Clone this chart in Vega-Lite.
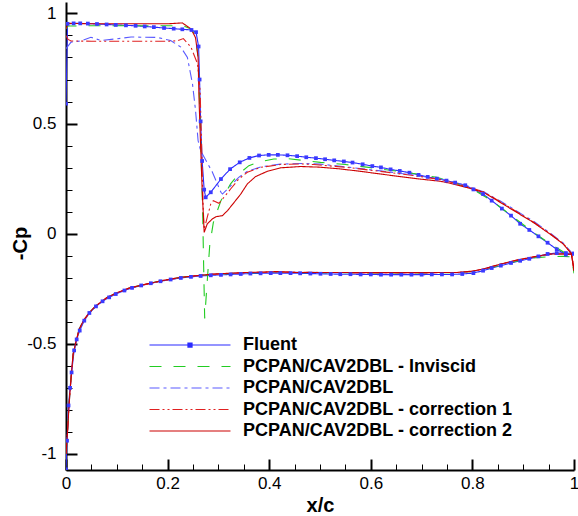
{
"$schema": "https://vega.github.io/schema/vega-lite/v6.json",
"width": 508, "height": 468,
"autosize": "none",
"padding": {"left": 66, "top": 2, "right": 4, "bottom": 46},
"background": "white",
"config": {"view": {"stroke": null}, "font": "Liberation Sans"},
"datasets": {"d": [
{"s":"Fluent","b":"u","x":0,"y":0.59},{"s":"Fluent","b":"u","x":0.003,"y":0.953},{"s":"Fluent","b":"u","x":0.015,"y":0.955},{"s":"Fluent","b":"u","x":0.028,"y":0.955},{"s":"Fluent","b":"u","x":0.043,"y":0.954},{"s":"Fluent","b":"u","x":0.061,"y":0.952},{"s":"Fluent","b":"u","x":0.08,"y":0.95},{"s":"Fluent","b":"u","x":0.098,"y":0.948},{"s":"Fluent","b":"u","x":0.118,"y":0.946},{"s":"Fluent","b":"u","x":0.137,"y":0.944},{"s":"Fluent","b":"u","x":0.155,"y":0.941},{"s":"Fluent","b":"u","x":0.173,"y":0.938},{"s":"Fluent","b":"u","x":0.193,"y":0.934},{"s":"Fluent","b":"u","x":0.212,"y":0.931},{"s":"Fluent","b":"u","x":0.229,"y":0.928},{"s":"Fluent","b":"u","x":0.247,"y":0.925},{"s":"Fluent","b":"u","x":0.256,"y":0.915},{"s":"Fluent","b":"u","x":0.261,"y":0.85},{"s":"Fluent","b":"u","x":0.263,"y":0.7},{"s":"Fluent","b":"u","x":0.265,"y":0.51},{"s":"Fluent","b":"u","x":0.268,"y":0.33},{"s":"Fluent","b":"u","x":0.272,"y":0.2},{"s":"Fluent","b":"u","x":0.275,"y":0.165},{"s":"Fluent","b":"u","x":0.285,"y":0.188},{"s":"Fluent","b":"u","x":0.305,"y":0.248},{"s":"Fluent","b":"u","x":0.323,"y":0.293},{"s":"Fluent","b":"u","x":0.342,"y":0.324},{"s":"Fluent","b":"u","x":0.361,"y":0.344},{"s":"Fluent","b":"u","x":0.38,"y":0.355},{"s":"Fluent","b":"u","x":0.399,"y":0.358},{"s":"Fluent","b":"u","x":0.417,"y":0.358},{"s":"Fluent","b":"u","x":0.436,"y":0.356},{"s":"Fluent","b":"u","x":0.455,"y":0.352},{"s":"Fluent","b":"u","x":0.473,"y":0.347},{"s":"Fluent","b":"u","x":0.492,"y":0.343},{"s":"Fluent","b":"u","x":0.51,"y":0.338},{"s":"Fluent","b":"u","x":0.528,"y":0.333},{"s":"Fluent","b":"u","x":0.547,"y":0.328},{"s":"Fluent","b":"u","x":0.564,"y":0.323},{"s":"Fluent","b":"u","x":0.584,"y":0.315},{"s":"Fluent","b":"u","x":0.603,"y":0.307},{"s":"Fluent","b":"u","x":0.62,"y":0.301},{"s":"Fluent","b":"u","x":0.639,"y":0.292},{"s":"Fluent","b":"u","x":0.657,"y":0.285},{"s":"Fluent","b":"u","x":0.676,"y":0.277},{"s":"Fluent","b":"u","x":0.694,"y":0.267},{"s":"Fluent","b":"u","x":0.712,"y":0.258},{"s":"Fluent","b":"u","x":0.73,"y":0.25},{"s":"Fluent","b":"u","x":0.749,"y":0.241},{"s":"Fluent","b":"u","x":0.766,"y":0.232},{"s":"Fluent","b":"u","x":0.786,"y":0.22},{"s":"Fluent","b":"u","x":0.802,"y":0.201},{"s":"Fluent","b":"u","x":0.821,"y":0.18},{"s":"Fluent","b":"u","x":0.838,"y":0.15},{"s":"Fluent","b":"u","x":0.858,"y":0.114},{"s":"Fluent","b":"u","x":0.876,"y":0.082},{"s":"Fluent","b":"u","x":0.894,"y":0.045},{"s":"Fluent","b":"u","x":0.912,"y":0.017},{"s":"Fluent","b":"u","x":0.93,"y":-0.012},{"s":"Fluent","b":"u","x":0.948,"y":-0.041},{"s":"Fluent","b":"u","x":0.966,"y":-0.071},{"s":"Fluent","b":"u","x":0.984,"y":-0.095},{"s":"Fluent","b":"u","x":1,"y":-0.09},
{"s":"Fluent","b":"l","x":0,"y":-1.07},{"s":"Fluent","b":"l","x":0.002,"y":-0.94},{"s":"Fluent","b":"l","x":0.005,"y":-0.78},{"s":"Fluent","b":"l","x":0.008,"y":-0.7},{"s":"Fluent","b":"l","x":0.011,"y":-0.63},{"s":"Fluent","b":"l","x":0.016,"y":-0.53},{"s":"Fluent","b":"l","x":0.021,"y":-0.48},{"s":"Fluent","b":"l","x":0.027,"y":-0.44},{"s":"Fluent","b":"l","x":0.036,"y":-0.395},{"s":"Fluent","b":"l","x":0.046,"y":-0.36},{"s":"Fluent","b":"l","x":0.059,"y":-0.33},{"s":"Fluent","b":"l","x":0.072,"y":-0.307},{"s":"Fluent","b":"l","x":0.085,"y":-0.289},{"s":"Fluent","b":"l","x":0.098,"y":-0.274},{"s":"Fluent","b":"l","x":0.115,"y":-0.258},{"s":"Fluent","b":"l","x":0.13,"y":-0.246},{"s":"Fluent","b":"l","x":0.148,"y":-0.235},{"s":"Fluent","b":"l","x":0.167,"y":-0.225},{"s":"Fluent","b":"l","x":0.186,"y":-0.216},{"s":"Fluent","b":"l","x":0.206,"y":-0.208},{"s":"Fluent","b":"l","x":0.226,"y":-0.201},{"s":"Fluent","b":"l","x":0.246,"y":-0.196},{"s":"Fluent","b":"l","x":0.265,"y":-0.192},{"s":"Fluent","b":"l","x":0.285,"y":-0.189},{"s":"Fluent","b":"l","x":0.305,"y":-0.187},{"s":"Fluent","b":"l","x":0.324,"y":-0.185},{"s":"Fluent","b":"l","x":0.344,"y":-0.183},{"s":"Fluent","b":"l","x":0.363,"y":-0.181},{"s":"Fluent","b":"l","x":0.383,"y":-0.18},{"s":"Fluent","b":"l","x":0.403,"y":-0.179},{"s":"Fluent","b":"l","x":0.422,"y":-0.179},{"s":"Fluent","b":"l","x":0.442,"y":-0.179},{"s":"Fluent","b":"l","x":0.461,"y":-0.18},{"s":"Fluent","b":"l","x":0.481,"y":-0.181},{"s":"Fluent","b":"l","x":0.501,"y":-0.182},{"s":"Fluent","b":"l","x":0.521,"y":-0.183},{"s":"Fluent","b":"l","x":0.54,"y":-0.184},{"s":"Fluent","b":"l","x":0.56,"y":-0.184},{"s":"Fluent","b":"l","x":0.58,"y":-0.185},{"s":"Fluent","b":"l","x":0.6,"y":-0.185},{"s":"Fluent","b":"l","x":0.62,"y":-0.186},{"s":"Fluent","b":"l","x":0.64,"y":-0.186},{"s":"Fluent","b":"l","x":0.66,"y":-0.186},{"s":"Fluent","b":"l","x":0.68,"y":-0.186},{"s":"Fluent","b":"l","x":0.7,"y":-0.186},{"s":"Fluent","b":"l","x":0.72,"y":-0.185},{"s":"Fluent","b":"l","x":0.74,"y":-0.185},{"s":"Fluent","b":"l","x":0.76,"y":-0.185},{"s":"Fluent","b":"l","x":0.78,"y":-0.183},{"s":"Fluent","b":"l","x":0.802,"y":-0.179},{"s":"Fluent","b":"l","x":0.821,"y":-0.168},{"s":"Fluent","b":"l","x":0.838,"y":-0.156},{"s":"Fluent","b":"l","x":0.856,"y":-0.145},{"s":"Fluent","b":"l","x":0.876,"y":-0.133},{"s":"Fluent","b":"l","x":0.894,"y":-0.123},{"s":"Fluent","b":"l","x":0.912,"y":-0.114},{"s":"Fluent","b":"l","x":0.93,"y":-0.103},{"s":"Fluent","b":"l","x":0.948,"y":-0.092},{"s":"Fluent","b":"l","x":0.966,"y":-0.088},{"s":"Fluent","b":"l","x":0.984,"y":-0.088},{"s":"Fluent","b":"l","x":1,"y":-0.09},
{"s":"PCPAN/CAV2DBL - Inviscid","b":"u","x":0,"y":0.93},{"s":"PCPAN/CAV2DBL - Inviscid","b":"u","x":0.004,"y":0.943},{"s":"PCPAN/CAV2DBL - Inviscid","b":"u","x":0.05,"y":0.944},{"s":"PCPAN/CAV2DBL - Inviscid","b":"u","x":0.1,"y":0.944},{"s":"PCPAN/CAV2DBL - Inviscid","b":"u","x":0.15,"y":0.944},{"s":"PCPAN/CAV2DBL - Inviscid","b":"u","x":0.2,"y":0.944},{"s":"PCPAN/CAV2DBL - Inviscid","b":"u","x":0.229,"y":0.945},{"s":"PCPAN/CAV2DBL - Inviscid","b":"u","x":0.246,"y":0.93},{"s":"PCPAN/CAV2DBL - Inviscid","b":"u","x":0.255,"y":0.9},{"s":"PCPAN/CAV2DBL - Inviscid","b":"u","x":0.26,"y":0.8},{"s":"PCPAN/CAV2DBL - Inviscid","b":"u","x":0.263,"y":0.6},{"s":"PCPAN/CAV2DBL - Inviscid","b":"u","x":0.266,"y":0.35},{"s":"PCPAN/CAV2DBL - Inviscid","b":"u","x":0.269,"y":0.1},{"s":"PCPAN/CAV2DBL - Inviscid","b":"u","x":0.271,"y":-0.15},{"s":"PCPAN/CAV2DBL - Inviscid","b":"u","x":0.273,"y":-0.385},{"s":"PCPAN/CAV2DBL - Inviscid","b":"u","x":0.277,"y":-0.25},{"s":"PCPAN/CAV2DBL - Inviscid","b":"u","x":0.283,"y":-0.05},{"s":"PCPAN/CAV2DBL - Inviscid","b":"u","x":0.29,"y":0.05},{"s":"PCPAN/CAV2DBL - Inviscid","b":"u","x":0.298,"y":0.105},{"s":"PCPAN/CAV2DBL - Inviscid","b":"u","x":0.305,"y":0.15},{"s":"PCPAN/CAV2DBL - Inviscid","b":"u","x":0.324,"y":0.226},{"s":"PCPAN/CAV2DBL - Inviscid","b":"u","x":0.34,"y":0.271},{"s":"PCPAN/CAV2DBL - Inviscid","b":"u","x":0.36,"y":0.309},{"s":"PCPAN/CAV2DBL - Inviscid","b":"u","x":0.383,"y":0.327},{"s":"PCPAN/CAV2DBL - Inviscid","b":"u","x":0.409,"y":0.339},{"s":"PCPAN/CAV2DBL - Inviscid","b":"u","x":0.436,"y":0.341},{"s":"PCPAN/CAV2DBL - Inviscid","b":"u","x":0.501,"y":0.324},{"s":"PCPAN/CAV2DBL - Inviscid","b":"u","x":0.55,"y":0.314},{"s":"PCPAN/CAV2DBL - Inviscid","b":"u","x":0.596,"y":0.301},{"s":"PCPAN/CAV2DBL - Inviscid","b":"u","x":0.645,"y":0.286},{"s":"PCPAN/CAV2DBL - Inviscid","b":"u","x":0.691,"y":0.271},{"s":"PCPAN/CAV2DBL - Inviscid","b":"u","x":0.73,"y":0.256},{"s":"PCPAN/CAV2DBL - Inviscid","b":"u","x":0.766,"y":0.23},{"s":"PCPAN/CAV2DBL - Inviscid","b":"u","x":0.802,"y":0.2},{"s":"PCPAN/CAV2DBL - Inviscid","b":"u","x":0.838,"y":0.15},{"s":"PCPAN/CAV2DBL - Inviscid","b":"u","x":0.876,"y":0.083},{"s":"PCPAN/CAV2DBL - Inviscid","b":"u","x":0.912,"y":0.02},{"s":"PCPAN/CAV2DBL - Inviscid","b":"u","x":0.948,"y":-0.038},{"s":"PCPAN/CAV2DBL - Inviscid","b":"u","x":0.984,"y":-0.09},{"s":"PCPAN/CAV2DBL - Inviscid","b":"u","x":1,"y":-0.12},
{"s":"PCPAN/CAV2DBL - Inviscid","b":"l","x":0,"y":-1.0},{"s":"PCPAN/CAV2DBL - Inviscid","b":"l","x":0.003,"y":-0.9},{"s":"PCPAN/CAV2DBL - Inviscid","b":"l","x":0.0065,"y":-0.76},{"s":"PCPAN/CAV2DBL - Inviscid","b":"l","x":0.01,"y":-0.653},{"s":"PCPAN/CAV2DBL - Inviscid","b":"l","x":0.014,"y":-0.547},{"s":"PCPAN/CAV2DBL - Inviscid","b":"l","x":0.02,"y":-0.486},{"s":"PCPAN/CAV2DBL - Inviscid","b":"l","x":0.026,"y":-0.433},{"s":"PCPAN/CAV2DBL - Inviscid","b":"l","x":0.036,"y":-0.388},{"s":"PCPAN/CAV2DBL - Inviscid","b":"l","x":0.046,"y":-0.358},{"s":"PCPAN/CAV2DBL - Inviscid","b":"l","x":0.059,"y":-0.327},{"s":"PCPAN/CAV2DBL - Inviscid","b":"l","x":0.079,"y":-0.292},{"s":"PCPAN/CAV2DBL - Inviscid","b":"l","x":0.098,"y":-0.27},{"s":"PCPAN/CAV2DBL - Inviscid","b":"l","x":0.124,"y":-0.247},{"s":"PCPAN/CAV2DBL - Inviscid","b":"l","x":0.157,"y":-0.229},{"s":"PCPAN/CAV2DBL - Inviscid","b":"l","x":0.196,"y":-0.21},{"s":"PCPAN/CAV2DBL - Inviscid","b":"l","x":0.226,"y":-0.198},{"s":"PCPAN/CAV2DBL - Inviscid","b":"l","x":0.26,"y":-0.19},{"s":"PCPAN/CAV2DBL - Inviscid","b":"l","x":0.291,"y":-0.184},{"s":"PCPAN/CAV2DBL - Inviscid","b":"l","x":0.357,"y":-0.178},{"s":"PCPAN/CAV2DBL - Inviscid","b":"l","x":0.416,"y":-0.176},{"s":"PCPAN/CAV2DBL - Inviscid","b":"l","x":0.5,"y":-0.177},{"s":"PCPAN/CAV2DBL - Inviscid","b":"l","x":0.6,"y":-0.178},{"s":"PCPAN/CAV2DBL - Inviscid","b":"l","x":0.7,"y":-0.178},{"s":"PCPAN/CAV2DBL - Inviscid","b":"l","x":0.77,"y":-0.177},{"s":"PCPAN/CAV2DBL - Inviscid","b":"l","x":0.8,"y":-0.172},{"s":"PCPAN/CAV2DBL - Inviscid","b":"l","x":0.822,"y":-0.163},{"s":"PCPAN/CAV2DBL - Inviscid","b":"l","x":0.855,"y":-0.143},{"s":"PCPAN/CAV2DBL - Inviscid","b":"l","x":0.887,"y":-0.125},{"s":"PCPAN/CAV2DBL - Inviscid","b":"l","x":0.92,"y":-0.11},{"s":"PCPAN/CAV2DBL - Inviscid","b":"l","x":0.953,"y":-0.104},{"s":"PCPAN/CAV2DBL - Inviscid","b":"l","x":0.979,"y":-0.103},{"s":"PCPAN/CAV2DBL - Inviscid","b":"l","x":0.995,"y":-0.105},{"s":"PCPAN/CAV2DBL - Inviscid","b":"l","x":1,"y":-0.18},
{"s":"PCPAN/CAV2DBL","b":"u","x":0,"y":0.84},{"s":"PCPAN/CAV2DBL","b":"u","x":0.01,"y":0.87},{"s":"PCPAN/CAV2DBL","b":"u","x":0.03,"y":0.875},{"s":"PCPAN/CAV2DBL","b":"u","x":0.049,"y":0.892},{"s":"PCPAN/CAV2DBL","b":"u","x":0.069,"y":0.877},{"s":"PCPAN/CAV2DBL","b":"u","x":0.1,"y":0.885},{"s":"PCPAN/CAV2DBL","b":"u","x":0.128,"y":0.893},{"s":"PCPAN/CAV2DBL","b":"u","x":0.18,"y":0.891},{"s":"PCPAN/CAV2DBL","b":"u","x":0.206,"y":0.877},{"s":"PCPAN/CAV2DBL","b":"u","x":0.226,"y":0.847},{"s":"PCPAN/CAV2DBL","b":"u","x":0.239,"y":0.8},{"s":"PCPAN/CAV2DBL","b":"u","x":0.249,"y":0.68},{"s":"PCPAN/CAV2DBL","b":"u","x":0.255,"y":0.56},{"s":"PCPAN/CAV2DBL","b":"u","x":0.26,"y":0.423},{"s":"PCPAN/CAV2DBL","b":"u","x":0.265,"y":0.377},{"s":"PCPAN/CAV2DBL","b":"u","x":0.288,"y":0.28},{"s":"PCPAN/CAV2DBL","b":"u","x":0.305,"y":0.188},{"s":"PCPAN/CAV2DBL","b":"u","x":0.308,"y":0.18},{"s":"PCPAN/CAV2DBL","b":"u","x":0.321,"y":0.21},{"s":"PCPAN/CAV2DBL","b":"u","x":0.34,"y":0.256},{"s":"PCPAN/CAV2DBL","b":"u","x":0.357,"y":0.283},{"s":"PCPAN/CAV2DBL","b":"u","x":0.383,"y":0.303},{"s":"PCPAN/CAV2DBL","b":"u","x":0.422,"y":0.316},{"s":"PCPAN/CAV2DBL","b":"u","x":0.462,"y":0.319},{"s":"PCPAN/CAV2DBL","b":"u","x":0.5,"y":0.316},{"s":"PCPAN/CAV2DBL","b":"u","x":0.553,"y":0.303},{"s":"PCPAN/CAV2DBL","b":"u","x":0.619,"y":0.285},{"s":"PCPAN/CAV2DBL","b":"u","x":0.684,"y":0.266},{"s":"PCPAN/CAV2DBL","b":"u","x":0.737,"y":0.248},{"s":"PCPAN/CAV2DBL","b":"u","x":0.789,"y":0.218},{"s":"PCPAN/CAV2DBL","b":"u","x":0.822,"y":0.19},{"s":"PCPAN/CAV2DBL","b":"u","x":0.855,"y":0.148},{"s":"PCPAN/CAV2DBL","b":"u","x":0.887,"y":0.103},{"s":"PCPAN/CAV2DBL","b":"u","x":0.92,"y":0.057},{"s":"PCPAN/CAV2DBL","b":"u","x":0.953,"y":0.003},{"s":"PCPAN/CAV2DBL","b":"u","x":0.979,"y":-0.043},{"s":"PCPAN/CAV2DBL","b":"u","x":0.995,"y":-0.085},{"s":"PCPAN/CAV2DBL","b":"u","x":1,"y":-0.1},
{"s":"PCPAN/CAV2DBL","b":"l","x":0,"y":-1.0},{"s":"PCPAN/CAV2DBL","b":"l","x":0.003,"y":-0.9},{"s":"PCPAN/CAV2DBL","b":"l","x":0.0065,"y":-0.762},{"s":"PCPAN/CAV2DBL","b":"l","x":0.01,"y":-0.655},{"s":"PCPAN/CAV2DBL","b":"l","x":0.014,"y":-0.549},{"s":"PCPAN/CAV2DBL","b":"l","x":0.02,"y":-0.487},{"s":"PCPAN/CAV2DBL","b":"l","x":0.026,"y":-0.434},{"s":"PCPAN/CAV2DBL","b":"l","x":0.036,"y":-0.389},{"s":"PCPAN/CAV2DBL","b":"l","x":0.046,"y":-0.359},{"s":"PCPAN/CAV2DBL","b":"l","x":0.059,"y":-0.328},{"s":"PCPAN/CAV2DBL","b":"l","x":0.079,"y":-0.293},{"s":"PCPAN/CAV2DBL","b":"l","x":0.098,"y":-0.271},{"s":"PCPAN/CAV2DBL","b":"l","x":0.124,"y":-0.248},{"s":"PCPAN/CAV2DBL","b":"l","x":0.157,"y":-0.23},{"s":"PCPAN/CAV2DBL","b":"l","x":0.196,"y":-0.211},{"s":"PCPAN/CAV2DBL","b":"l","x":0.226,"y":-0.199},{"s":"PCPAN/CAV2DBL","b":"l","x":0.26,"y":-0.19},{"s":"PCPAN/CAV2DBL","b":"l","x":0.291,"y":-0.184},{"s":"PCPAN/CAV2DBL","b":"l","x":0.357,"y":-0.177},{"s":"PCPAN/CAV2DBL","b":"l","x":0.416,"y":-0.175},{"s":"PCPAN/CAV2DBL","b":"l","x":0.5,"y":-0.176},{"s":"PCPAN/CAV2DBL","b":"l","x":0.6,"y":-0.177},{"s":"PCPAN/CAV2DBL","b":"l","x":0.7,"y":-0.177},{"s":"PCPAN/CAV2DBL","b":"l","x":0.77,"y":-0.176},{"s":"PCPAN/CAV2DBL","b":"l","x":0.8,"y":-0.171},{"s":"PCPAN/CAV2DBL","b":"l","x":0.822,"y":-0.161},{"s":"PCPAN/CAV2DBL","b":"l","x":0.855,"y":-0.14},{"s":"PCPAN/CAV2DBL","b":"l","x":0.887,"y":-0.122},{"s":"PCPAN/CAV2DBL","b":"l","x":0.92,"y":-0.107},{"s":"PCPAN/CAV2DBL","b":"l","x":0.953,"y":-0.094},{"s":"PCPAN/CAV2DBL","b":"l","x":0.979,"y":-0.091},{"s":"PCPAN/CAV2DBL","b":"l","x":0.995,"y":-0.092},{"s":"PCPAN/CAV2DBL","b":"l","x":1,"y":-0.1},
{"s":"PCPAN/CAV2DBL - correction 1","b":"u","x":0,"y":0.9},{"s":"PCPAN/CAV2DBL - correction 1","b":"u","x":0.004,"y":0.882},{"s":"PCPAN/CAV2DBL - correction 1","b":"u","x":0.01,"y":0.875},{"s":"PCPAN/CAV2DBL - correction 1","b":"u","x":0.05,"y":0.874},{"s":"PCPAN/CAV2DBL - correction 1","b":"u","x":0.1,"y":0.874},{"s":"PCPAN/CAV2DBL - correction 1","b":"u","x":0.15,"y":0.874},{"s":"PCPAN/CAV2DBL - correction 1","b":"u","x":0.2,"y":0.874},{"s":"PCPAN/CAV2DBL - correction 1","b":"u","x":0.22,"y":0.876},{"s":"PCPAN/CAV2DBL - correction 1","b":"u","x":0.231,"y":0.886},{"s":"PCPAN/CAV2DBL - correction 1","b":"u","x":0.246,"y":0.847},{"s":"PCPAN/CAV2DBL - correction 1","b":"u","x":0.259,"y":0.771},{"s":"PCPAN/CAV2DBL - correction 1","b":"u","x":0.264,"y":0.65},{"s":"PCPAN/CAV2DBL - correction 1","b":"u","x":0.267,"y":0.4},{"s":"PCPAN/CAV2DBL - correction 1","b":"u","x":0.27,"y":0.12},{"s":"PCPAN/CAV2DBL - correction 1","b":"u","x":0.272,"y":0.02},{"s":"PCPAN/CAV2DBL - correction 1","b":"u","x":0.278,"y":0.074},{"s":"PCPAN/CAV2DBL - correction 1","b":"u","x":0.285,"y":0.135},{"s":"PCPAN/CAV2DBL - correction 1","b":"u","x":0.29,"y":0.15},{"s":"PCPAN/CAV2DBL - correction 1","b":"u","x":0.301,"y":0.138},{"s":"PCPAN/CAV2DBL - correction 1","b":"u","x":0.318,"y":0.185},{"s":"PCPAN/CAV2DBL - correction 1","b":"u","x":0.324,"y":0.203},{"s":"PCPAN/CAV2DBL - correction 1","b":"u","x":0.34,"y":0.248},{"s":"PCPAN/CAV2DBL - correction 1","b":"u","x":0.357,"y":0.279},{"s":"PCPAN/CAV2DBL - correction 1","b":"u","x":0.383,"y":0.301},{"s":"PCPAN/CAV2DBL - correction 1","b":"u","x":0.422,"y":0.314},{"s":"PCPAN/CAV2DBL - correction 1","b":"u","x":0.462,"y":0.317},{"s":"PCPAN/CAV2DBL - correction 1","b":"u","x":0.488,"y":0.314},{"s":"PCPAN/CAV2DBL - correction 1","b":"u","x":0.553,"y":0.301},{"s":"PCPAN/CAV2DBL - correction 1","b":"u","x":0.619,"y":0.283},{"s":"PCPAN/CAV2DBL - correction 1","b":"u","x":0.684,"y":0.264},{"s":"PCPAN/CAV2DBL - correction 1","b":"u","x":0.737,"y":0.246},{"s":"PCPAN/CAV2DBL - correction 1","b":"u","x":0.756,"y":0.235},{"s":"PCPAN/CAV2DBL - correction 1","b":"u","x":0.789,"y":0.214},{"s":"PCPAN/CAV2DBL - correction 1","b":"u","x":0.822,"y":0.19},{"s":"PCPAN/CAV2DBL - correction 1","b":"u","x":0.855,"y":0.145},{"s":"PCPAN/CAV2DBL - correction 1","b":"u","x":0.887,"y":0.1},{"s":"PCPAN/CAV2DBL - correction 1","b":"u","x":0.92,"y":0.053},{"s":"PCPAN/CAV2DBL - correction 1","b":"u","x":0.953,"y":0},{"s":"PCPAN/CAV2DBL - correction 1","b":"u","x":0.979,"y":-0.045},{"s":"PCPAN/CAV2DBL - correction 1","b":"u","x":0.995,"y":-0.09},{"s":"PCPAN/CAV2DBL - correction 1","b":"u","x":1,"y":-0.16},
{"s":"PCPAN/CAV2DBL - correction 1","b":"l","x":0,"y":-1.0},{"s":"PCPAN/CAV2DBL - correction 1","b":"l","x":0.003,"y":-0.9},{"s":"PCPAN/CAV2DBL - correction 1","b":"l","x":0.0065,"y":-0.765},{"s":"PCPAN/CAV2DBL - correction 1","b":"l","x":0.01,"y":-0.655},{"s":"PCPAN/CAV2DBL - correction 1","b":"l","x":0.014,"y":-0.55},{"s":"PCPAN/CAV2DBL - correction 1","b":"l","x":0.02,"y":-0.488},{"s":"PCPAN/CAV2DBL - correction 1","b":"l","x":0.026,"y":-0.435},{"s":"PCPAN/CAV2DBL - correction 1","b":"l","x":0.036,"y":-0.39},{"s":"PCPAN/CAV2DBL - correction 1","b":"l","x":0.046,"y":-0.36},{"s":"PCPAN/CAV2DBL - correction 1","b":"l","x":0.059,"y":-0.329},{"s":"PCPAN/CAV2DBL - correction 1","b":"l","x":0.079,"y":-0.293},{"s":"PCPAN/CAV2DBL - correction 1","b":"l","x":0.098,"y":-0.271},{"s":"PCPAN/CAV2DBL - correction 1","b":"l","x":0.124,"y":-0.248},{"s":"PCPAN/CAV2DBL - correction 1","b":"l","x":0.157,"y":-0.23},{"s":"PCPAN/CAV2DBL - correction 1","b":"l","x":0.196,"y":-0.211},{"s":"PCPAN/CAV2DBL - correction 1","b":"l","x":0.226,"y":-0.199},{"s":"PCPAN/CAV2DBL - correction 1","b":"l","x":0.26,"y":-0.19},{"s":"PCPAN/CAV2DBL - correction 1","b":"l","x":0.291,"y":-0.184},{"s":"PCPAN/CAV2DBL - correction 1","b":"l","x":0.357,"y":-0.177},{"s":"PCPAN/CAV2DBL - correction 1","b":"l","x":0.416,"y":-0.174},{"s":"PCPAN/CAV2DBL - correction 1","b":"l","x":0.5,"y":-0.176},{"s":"PCPAN/CAV2DBL - correction 1","b":"l","x":0.6,"y":-0.177},{"s":"PCPAN/CAV2DBL - correction 1","b":"l","x":0.7,"y":-0.177},{"s":"PCPAN/CAV2DBL - correction 1","b":"l","x":0.77,"y":-0.176},{"s":"PCPAN/CAV2DBL - correction 1","b":"l","x":0.8,"y":-0.171},{"s":"PCPAN/CAV2DBL - correction 1","b":"l","x":0.822,"y":-0.161},{"s":"PCPAN/CAV2DBL - correction 1","b":"l","x":0.855,"y":-0.139},{"s":"PCPAN/CAV2DBL - correction 1","b":"l","x":0.887,"y":-0.121},{"s":"PCPAN/CAV2DBL - correction 1","b":"l","x":0.92,"y":-0.106},{"s":"PCPAN/CAV2DBL - correction 1","b":"l","x":0.953,"y":-0.093},{"s":"PCPAN/CAV2DBL - correction 1","b":"l","x":0.979,"y":-0.092},{"s":"PCPAN/CAV2DBL - correction 1","b":"l","x":0.995,"y":-0.094},{"s":"PCPAN/CAV2DBL - correction 1","b":"l","x":1,"y":-0.16},
{"s":"PCPAN/CAV2DBL - correction 2","b":"u","x":0,"y":0.93},{"s":"PCPAN/CAV2DBL - correction 2","b":"u","x":0.004,"y":0.955},{"s":"PCPAN/CAV2DBL - correction 2","b":"u","x":0.05,"y":0.953},{"s":"PCPAN/CAV2DBL - correction 2","b":"u","x":0.1,"y":0.953},{"s":"PCPAN/CAV2DBL - correction 2","b":"u","x":0.15,"y":0.953},{"s":"PCPAN/CAV2DBL - correction 2","b":"u","x":0.2,"y":0.953},{"s":"PCPAN/CAV2DBL - correction 2","b":"u","x":0.229,"y":0.957},{"s":"PCPAN/CAV2DBL - correction 2","b":"u","x":0.246,"y":0.93},{"s":"PCPAN/CAV2DBL - correction 2","b":"u","x":0.255,"y":0.89},{"s":"PCPAN/CAV2DBL - correction 2","b":"u","x":0.26,"y":0.8},{"s":"PCPAN/CAV2DBL - correction 2","b":"u","x":0.262,"y":0.6},{"s":"PCPAN/CAV2DBL - correction 2","b":"u","x":0.265,"y":0.4},{"s":"PCPAN/CAV2DBL - correction 2","b":"u","x":0.268,"y":0.2},{"s":"PCPAN/CAV2DBL - correction 2","b":"u","x":0.272,"y":0.006},{"s":"PCPAN/CAV2DBL - correction 2","b":"u","x":0.278,"y":0.044},{"s":"PCPAN/CAV2DBL - correction 2","b":"u","x":0.288,"y":0.067},{"s":"PCPAN/CAV2DBL - correction 2","b":"u","x":0.295,"y":0.077},{"s":"PCPAN/CAV2DBL - correction 2","b":"u","x":0.308,"y":0.082},{"s":"PCPAN/CAV2DBL - correction 2","b":"u","x":0.318,"y":0.105},{"s":"PCPAN/CAV2DBL - correction 2","b":"u","x":0.331,"y":0.142},{"s":"PCPAN/CAV2DBL - correction 2","b":"u","x":0.344,"y":0.18},{"s":"PCPAN/CAV2DBL - correction 2","b":"u","x":0.357,"y":0.226},{"s":"PCPAN/CAV2DBL - correction 2","b":"u","x":0.373,"y":0.259},{"s":"PCPAN/CAV2DBL - correction 2","b":"u","x":0.396,"y":0.283},{"s":"PCPAN/CAV2DBL - correction 2","b":"u","x":0.422,"y":0.299},{"s":"PCPAN/CAV2DBL - correction 2","b":"u","x":0.462,"y":0.305},{"s":"PCPAN/CAV2DBL - correction 2","b":"u","x":0.5,"y":0.302},{"s":"PCPAN/CAV2DBL - correction 2","b":"u","x":0.54,"y":0.294},{"s":"PCPAN/CAV2DBL - correction 2","b":"u","x":0.58,"y":0.283},{"s":"PCPAN/CAV2DBL - correction 2","b":"u","x":0.619,"y":0.271},{"s":"PCPAN/CAV2DBL - correction 2","b":"u","x":0.658,"y":0.259},{"s":"PCPAN/CAV2DBL - correction 2","b":"u","x":0.697,"y":0.248},{"s":"PCPAN/CAV2DBL - correction 2","b":"u","x":0.737,"y":0.238},{"s":"PCPAN/CAV2DBL - correction 2","b":"u","x":0.756,"y":0.229},{"s":"PCPAN/CAV2DBL - correction 2","b":"u","x":0.789,"y":0.21},{"s":"PCPAN/CAV2DBL - correction 2","b":"u","x":0.822,"y":0.188},{"s":"PCPAN/CAV2DBL - correction 2","b":"u","x":0.855,"y":0.142},{"s":"PCPAN/CAV2DBL - correction 2","b":"u","x":0.887,"y":0.097},{"s":"PCPAN/CAV2DBL - correction 2","b":"u","x":0.92,"y":0.051},{"s":"PCPAN/CAV2DBL - correction 2","b":"u","x":0.953,"y":-0.002},{"s":"PCPAN/CAV2DBL - correction 2","b":"u","x":0.979,"y":-0.047},{"s":"PCPAN/CAV2DBL - correction 2","b":"u","x":0.995,"y":-0.092},{"s":"PCPAN/CAV2DBL - correction 2","b":"u","x":1,"y":-0.168},
{"s":"PCPAN/CAV2DBL - correction 2","b":"l","x":0,"y":-1.0},{"s":"PCPAN/CAV2DBL - correction 2","b":"l","x":0.003,"y":-0.9},{"s":"PCPAN/CAV2DBL - correction 2","b":"l","x":0.0065,"y":-0.76},{"s":"PCPAN/CAV2DBL - correction 2","b":"l","x":0.01,"y":-0.653},{"s":"PCPAN/CAV2DBL - correction 2","b":"l","x":0.014,"y":-0.547},{"s":"PCPAN/CAV2DBL - correction 2","b":"l","x":0.02,"y":-0.486},{"s":"PCPAN/CAV2DBL - correction 2","b":"l","x":0.026,"y":-0.433},{"s":"PCPAN/CAV2DBL - correction 2","b":"l","x":0.036,"y":-0.388},{"s":"PCPAN/CAV2DBL - correction 2","b":"l","x":0.046,"y":-0.358},{"s":"PCPAN/CAV2DBL - correction 2","b":"l","x":0.059,"y":-0.327},{"s":"PCPAN/CAV2DBL - correction 2","b":"l","x":0.079,"y":-0.292},{"s":"PCPAN/CAV2DBL - correction 2","b":"l","x":0.098,"y":-0.27},{"s":"PCPAN/CAV2DBL - correction 2","b":"l","x":0.124,"y":-0.247},{"s":"PCPAN/CAV2DBL - correction 2","b":"l","x":0.157,"y":-0.229},{"s":"PCPAN/CAV2DBL - correction 2","b":"l","x":0.196,"y":-0.21},{"s":"PCPAN/CAV2DBL - correction 2","b":"l","x":0.226,"y":-0.198},{"s":"PCPAN/CAV2DBL - correction 2","b":"l","x":0.26,"y":-0.19},{"s":"PCPAN/CAV2DBL - correction 2","b":"l","x":0.291,"y":-0.183},{"s":"PCPAN/CAV2DBL - correction 2","b":"l","x":0.357,"y":-0.176},{"s":"PCPAN/CAV2DBL - correction 2","b":"l","x":0.416,"y":-0.172},{"s":"PCPAN/CAV2DBL - correction 2","b":"l","x":0.45,"y":-0.176},{"s":"PCPAN/CAV2DBL - correction 2","b":"l","x":0.5,"y":-0.176},{"s":"PCPAN/CAV2DBL - correction 2","b":"l","x":0.6,"y":-0.177},{"s":"PCPAN/CAV2DBL - correction 2","b":"l","x":0.7,"y":-0.177},{"s":"PCPAN/CAV2DBL - correction 2","b":"l","x":0.77,"y":-0.176},{"s":"PCPAN/CAV2DBL - correction 2","b":"l","x":0.8,"y":-0.17},{"s":"PCPAN/CAV2DBL - correction 2","b":"l","x":0.822,"y":-0.16},{"s":"PCPAN/CAV2DBL - correction 2","b":"l","x":0.855,"y":-0.138},{"s":"PCPAN/CAV2DBL - correction 2","b":"l","x":0.887,"y":-0.12},{"s":"PCPAN/CAV2DBL - correction 2","b":"l","x":0.92,"y":-0.105},{"s":"PCPAN/CAV2DBL - correction 2","b":"l","x":0.953,"y":-0.092},{"s":"PCPAN/CAV2DBL - correction 2","b":"l","x":0.979,"y":-0.092},{"s":"PCPAN/CAV2DBL - correction 2","b":"l","x":0.995,"y":-0.094},{"s":"PCPAN/CAV2DBL - correction 2","b":"l","x":1,"y":-0.168}
]},
"data": {"name": "d"},
"layer": [
 {
  "mark": {"type": "line", "strokeWidth": 1.1, "clip": true},
  "encoding": {
   "x": {"field": "x", "type": "quantitative", "scale": {"domain": [0, 1], "nice": false, "zero": false},
         "axis": {"values": [0, 0.2, 0.4, 0.6, 0.8, 1], "labelExpr": "'' + datum.value", "tickSize": -11, "tickWidth": 2, "tickColor": "black", "domainColor": "black", "domainWidth": 2, "labelFont": "Liberation Sans", "labelFontSize": 17, "labelColor": "black", "labelPadding": 16, "labelFlush": false, "grid": false, "title": "x/c", "titleFont": "Liberation Sans", "titleFontSize": 20, "titleFontWeight": "bold", "titleColor": "black", "titleX": 254, "titleY": 25}},
   "y": {"field": "y", "type": "quantitative", "scale": {"domain": [-1.073, 1.052], "nice": false, "zero": false},
         "axis": {"values": [-1, -0.5, 0, 0.5, 1], "labelExpr": "'' + datum.value", "tickSize": -11, "tickWidth": 2, "tickColor": "black", "domainColor": "black", "domainWidth": 2, "labelFont": "Liberation Sans", "labelFontSize": 17, "labelColor": "black", "labelPadding": 21, "labelFlush": false, "grid": false, "title": "-Cp", "titleFont": "Liberation Sans", "titleFontSize": 20, "titleFontWeight": "bold", "titleColor": "black", "titleX": -36, "titleY": 241}},
   "color": {"field": "s", "type": "nominal",
     "scale": {"domain": ["Fluent", "PCPAN/CAV2DBL - Inviscid", "PCPAN/CAV2DBL", "PCPAN/CAV2DBL - correction 1", "PCPAN/CAV2DBL - correction 2"], "range": ["#2a2aff", "#22cc22", "#5a5aff", "#e02020", "#cc0000"]},
     "legend": {"title": null, "orient": "none", "legendX": 113, "legendY": 332, "symbolType": "M-4,0H4", "symbolSize": 410, "symbolStrokeWidth": 1.2, "labelFont": "Liberation Sans", "labelFontSize": 18, "labelFontWeight": "bold", "labelColor": "black", "labelOffset": 42, "rowPadding": 1.5, "labelLimit": 400,
       "encode": {"symbols": {"update": {"shape": {"signal": "datum.value === 'Fluent' ? 'M-4,0H4M-0.2,-0.2H0.2V0.2H-0.2Z' : 'M-4,0H4'"}, "fill": {"signal": "datum.value === 'Fluent' ? '#2a2aff' : 'transparent'"}}}}}},
   "strokeDash": {"field": "s", "type": "nominal",
     "scale": {"domain": ["Fluent", "PCPAN/CAV2DBL - Inviscid", "PCPAN/CAV2DBL", "PCPAN/CAV2DBL - correction 1", "PCPAN/CAV2DBL - correction 2"], "range": [[1, 0], [12, 12], [10, 4, 3, 4], [10, 3, 2, 3, 2, 3], [1, 0]]},
     "legend": {"title": null, "orient": "none", "legendX": 113, "legendY": 332, "symbolType": "M-4,0H4", "symbolSize": 410, "symbolStrokeWidth": 1.2, "labelFont": "Liberation Sans", "labelFontSize": 18, "labelFontWeight": "bold", "labelColor": "black", "labelOffset": 42, "rowPadding": 1.5, "labelLimit": 400,
       "encode": {"symbols": {"update": {"shape": {"signal": "datum.value === 'Fluent' ? 'M-4,0H4M-0.2,-0.2H0.2V0.2H-0.2Z' : 'M-4,0H4'"}, "fill": {"signal": "datum.value === 'Fluent' ? '#2a2aff' : 'transparent'"}}}}}},
   "detail": {"field": "b", "type": "nominal"}
  }
 },
 {
  "transform": [{"filter": "datum.s === 'Fluent'"}],
  "mark": {"type": "point", "shape": "square", "filled": true, "size": 14, "color": "#3a3aff", "opacity": 1, "clip": true},
  "encoding": {
   "x": {"field": "x", "type": "quantitative", "axis": {"orient": "bottom", "values": [0.05, 0.1, 0.15, 0.25, 0.3, 0.35, 0.45, 0.5, 0.55, 0.65, 0.7, 0.75, 0.85, 0.9, 0.95], "tickSize": -6, "tickWidth": 1, "tickColor": "black", "labels": false, "domain": false, "grid": false, "title": null}},
   "y": {"field": "y", "type": "quantitative", "axis": {"orient": "left", "values": [-0.9, -0.8, -0.7, -0.6, -0.4, -0.3, -0.2, -0.1, 0.1, 0.2, 0.3, 0.4, 0.6, 0.7, 0.8, 0.9], "tickSize": -6, "tickWidth": 1, "tickColor": "black", "labels": false, "domain": false, "grid": false, "title": null}}
  }
 }
],
"resolve": {"axis": {"x": "independent", "y": "independent"}}
}
